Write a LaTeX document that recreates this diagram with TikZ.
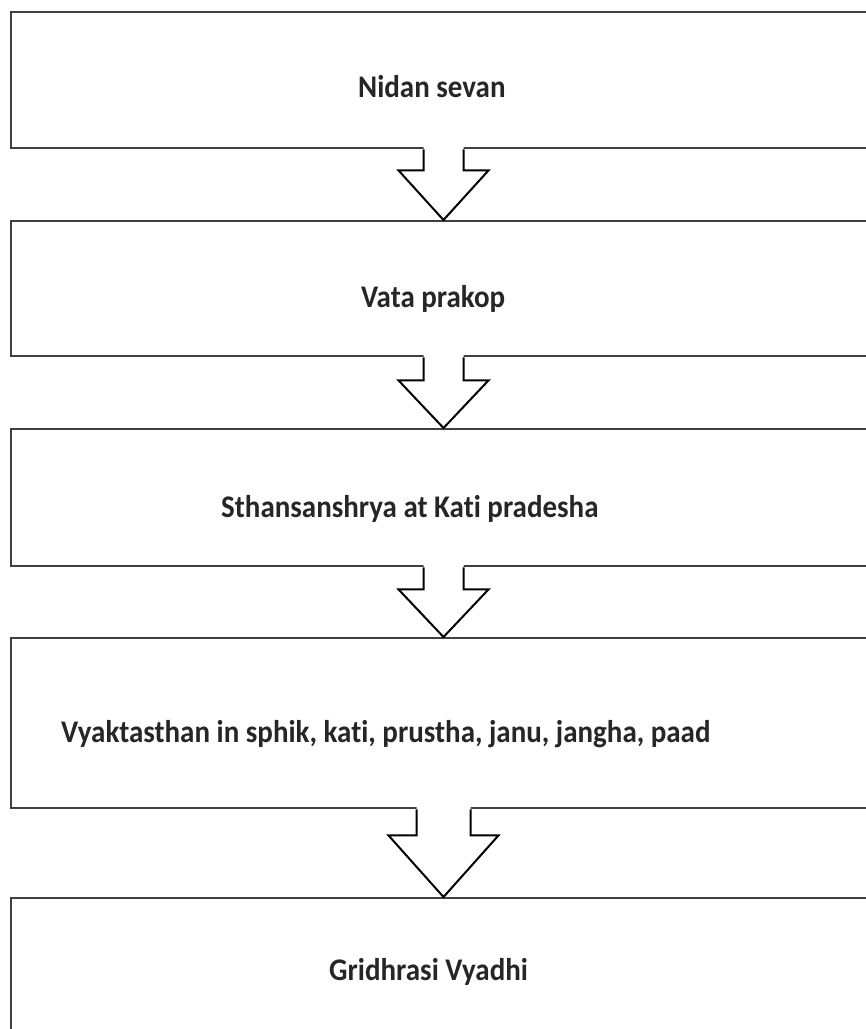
\documentclass[tikz,border=0pt]{standalone}
\usepackage{fontspec}
\setmainfont{Carlito}[FakeStretch=0.92,Ligatures=NoCommon]
\usetikzlibrary{calc}
\tikzset{
  flowbox/.style={draw=black!75, line width=2.4pt, rectangle, anchor=north west, minimum width=880pt, inner sep=0pt},
  label/.style={anchor=base west, inner sep=0pt, font=\fontsize{31.5}{36}\selectfont\bfseries, text=black!85},
  arrowline/.style={draw=black, line width=2pt, line join=miter},
}
\newcommand\blockarr[5]{%
  \coordinate (top) at (ax |- #1.south);
  \coordinate (tip) at (ax |- #2.north);
  \fill[white] ($(top)+(-#3,-3)$) -- ($(top)+(-#3,#5)$) -- ($(top)+(-#4,#5)$) -- (tip) -- ($(top)+(#4,#5)$) -- ($(top)+(#3,#5)$) -- ($(top)+(#3,-3)$) -- cycle;
  \draw[arrowline] ($(top)+(-#3,0)$) -- ($(top)+(-#3,#5)$) -- ($(top)+(-#4,#5)$) -- (tip) -- ($(top)+(#4,#5)$) -- ($(top)+(#3,#5)$) -- ($(top)+(#3,0)$);
}
\begin{document}
\begin{tikzpicture}[x=1pt,y=-1pt]
\useasboundingbox (0,0) rectangle (866,1029);
\fill[white] (0,0) rectangle (866,1029);
\clip (0,0) rectangle (866,1029);
\coordinate (ax) at (443.5,0);
\node[flowbox, minimum height=136pt] (b1) at (10,11) {};
\node[flowbox, minimum height=135pt] (b2) at (10,220) {};
\node[flowbox, minimum height=137pt] (b3) at (10,428) {};
\node[flowbox, minimum height=170pt] (b4) at (10,637) {};
\node[flowbox, minimum height=170pt] (b5) at (10,897) {};
\node[label] (t1) at (358,97) {Nidan sevan};
\node[label] (t2) at (361,307) {Vata prakop};
\node[label] (t3) at (221,517) {Sthansanshrya at Kati pradesha};
\node[label] (t4) at (61,742) {Vyaktasthan in sphik, kati, prustha, janu, jangha, paad};
\node[label] (t5) at (329,980) {Gridhrasi Vyadhi};
\blockarr{b1}{b2}{20}{45}{21}
\blockarr{b2}{b3}{20}{45}{23}
\blockarr{b3}{b4}{20}{45}{22}
\blockarr{b4}{b5}{27}{55}{26}
\end{tikzpicture}
\end{document}
